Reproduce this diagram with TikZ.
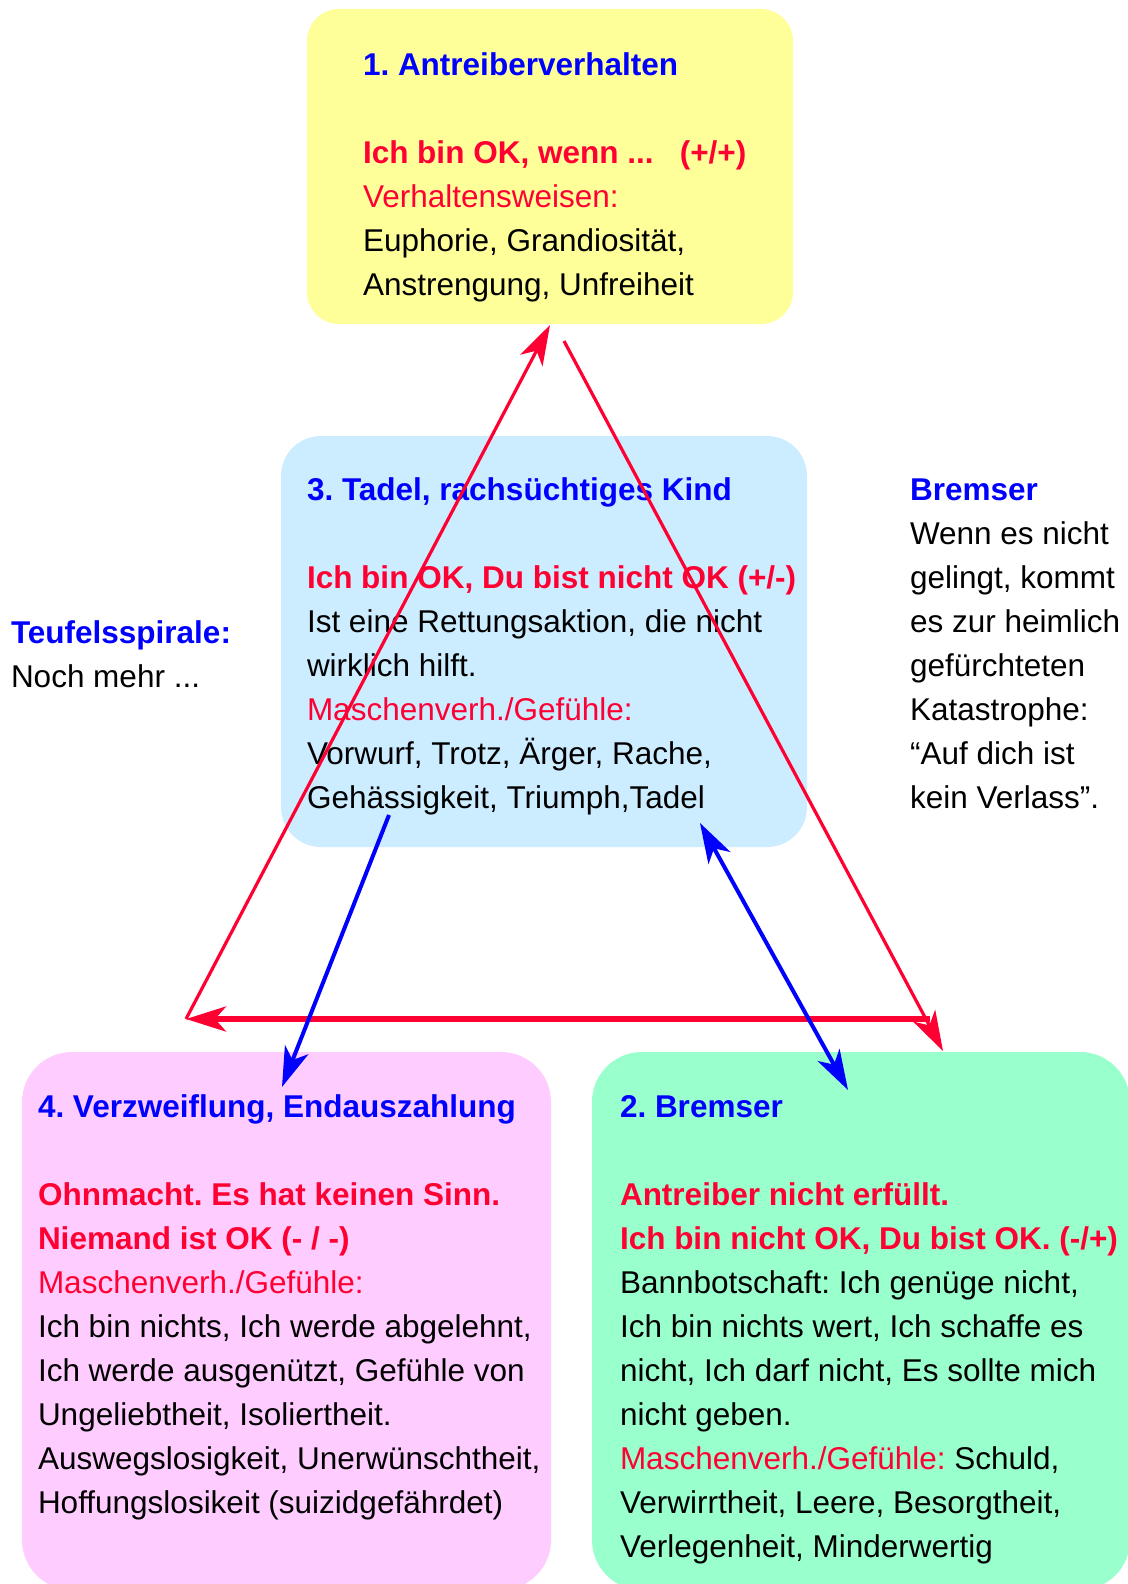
\documentclass[tikz,border=0pt]{standalone}
\usepackage{fontspec}
\setmainfont{Liberation Sans}
\usetikzlibrary{arrows.meta}
\definecolor{tred}{RGB}{255,0,51}
\definecolor{tblue}{RGB}{0,0,255}
\definecolor{fyellow}{RGB}{255,255,153}
\definecolor{fblue}{RGB}{204,236,255}
\definecolor{fpink}{RGB}{255,204,255}
\definecolor{fgreen}{RGB}{153,255,204}
\newcommand\Fs{\rule{0pt}{13pt}}
\newcommand\Hd[1]{{\color{tblue}\bfseries #1}}
\newcommand\Rb[1]{{\color{tred}\bfseries #1}}
\newcommand\Rn[1]{{\color{tred}#1}}
\frenchspacing
\begin{document}
\begin{tikzpicture}[x=0.5pt,y=-0.5pt,
  box/.style={draw=none, rectangle, anchor=north west, inner sep=0pt, outer sep=0pt},
  txt/.style={anchor=north west, inner sep=0pt, outer sep=0pt, align=left,
    font=\frenchspacing\fontsize{15.75pt}{22pt}\selectfont},
  tipstyle/.style={-{Stealth[length=20pt,width=12.5pt,inset=5.5pt]}},
  redline/.style={draw=tred, line width=1.6pt, tipstyle},
  redthick/.style={draw=tred, line width=2.6pt, tipstyle},
  blueline/.style={draw=tblue, line width=2pt, tipstyle},
]
\path[fill=white] (0,0) rectangle (1128,1584);
\useasboundingbox (0,0) rectangle (1128,1584);

% boxes
\node[box, fill=fyellow, rounded corners=16pt, minimum width=243pt, minimum height=157.5pt] (yb) at (307,9) {};
\node[box, fill=fblue, rounded corners=20pt, minimum width=263pt, minimum height=205.5pt] (bb) at (281,436) {};
\node[box, fill=fpink, rounded corners=25pt, minimum width=264.5pt, minimum height=269pt] (pb) at (22,1052) {};
\node[box, fill=fgreen, rounded corners=25pt, minimum width=269pt, minimum height=269pt] (gb) at (592,1052) {};

% texts
\node[txt] (yt) at (363,49) {\Fs\Hd{1. Antreiberverhalten}\\[22pt]
\Rb{Ich bin OK, wenn ...\ \ \ (+/+)}\\
\Rn{Verhaltensweisen:}\\
Euphorie, Grandiosität,\\
Anstrengung, Unfreiheit};

\node[txt] (bt) at (307,474) {\Fs\Hd{3. Tadel, rachsüchtiges Kind}\\[22pt]
\Rb{Ich bin OK, Du bist nicht OK (+/-)}\\
Ist eine Rettungsaktion, die nicht\\
wirklich hilft.\\
\Rn{Maschenverh./Gefühle:}\\
Vorwurf, Trotz, Ärger, Rache,\\
Gehässigkeit, Triumph,Tadel};

\node[txt] (pt) at (38,1091) {\Fs\Hd{4. Verzweiflung, Endauszahlung}\\[22pt]
\Rb{Ohnmacht. Es hat keinen Sinn.}\\
\Rb{Niemand ist OK (- / -)}\\
\Rn{Maschenverh./Gefühle:}\\
Ich bin nichts, Ich werde abgelehnt,\\
Ich werde ausgenützt, Gefühle von\\
Ungeliebtheit, Isoliertheit.\\
Auswegslosigkeit, Unerwünschtheit,\\
Hoffungslosikeit (suizidgefährdet)};

\node[txt] (gt) at (620,1091) {\Fs\Hd{2. Bremser}\\[22pt]
\Rb{Antreiber nicht erfüllt.}\\
\Rb{Ich bin nicht OK, Du bist OK. (-/+)}\\
Bannbotschaft: Ich genüge nicht,\\
Ich bin nichts wert, Ich schaffe es\\
nicht, Ich darf nicht, Es sollte mich\\
nicht geben.\\
\Rn{Maschenverh./Gefühle:} Schuld,\\
Verwirrtheit, Leere, Besorgtheit,\\
Verlegenheit, Minderwertig};

\node[txt] (rt) at (910,474) {\Fs\Hd{Bremser}\\
Wenn es nicht\\
gelingt, kommt\\
es zur heimlich\\
gefürchteten\\
Katastrophe:\\
“Auf dich ist\\
kein Verlass”.};

\node[txt] (lt) at (11,617) {\Fs\Hd{Teufelsspirale:}\\
Noch mehr ...};

% connector end points
\coordinate (rA) at (186,1019);
\coordinate (rT) at (550,325);
\coordinate (rS) at (564,341);
\coordinate (rB) at (943,1051);
\coordinate (rH) at (930,1019);
\coordinate (bS) at (389,815);
\coordinate (bE) at (282,1087);
\coordinate (dA) at (700,823);
\coordinate (dB) at (848,1090);

% connectors
\draw[redline] (rA) -- (rT);
\draw[redline] (rS) -- (rB);
\draw[redthick] (rH) -- (rA);
\draw[blueline] (bS) -- (bE);
\draw[blueline, {Stealth[length=20pt,width=12.5pt,inset=5.5pt]}-{Stealth[length=20pt,width=12.5pt,inset=5.5pt]}] (dA) -- (dB);
\end{tikzpicture}
\end{document}
